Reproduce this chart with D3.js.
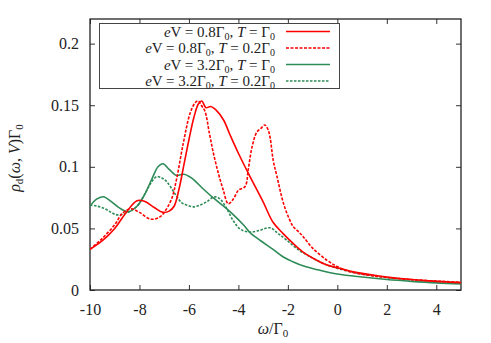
<!DOCTYPE html>
<html>
<head>
<meta charset="utf-8">
<script src="https://cdn.jsdelivr.net/npm/d3@7"></script>
<style>
  body { margin: 0; background: #fff; }
</style>
</head>
<body>
<div id="chart"></div>
<script>
var svgWidth = 491;
var svgHeight = 343;
var serif = "'Liberation Serif', 'Times New Roman', 'DejaVu Serif', serif";

var margin = { top: 19, right: 30, bottom: 53, left: 90 };
var width = svgWidth - margin.left - margin.right;
var height = svgHeight - margin.top - margin.bottom;

var xTicks = [-10, -8, -6, -4, -2, 0, 2, 4];
var yTicks = [0, 0.05, 0.1, 0.15, 0.2];
var yTickLabels = ["0", "0.05", "0.1", "0.15", "0.2"];

// eV = 0.8, T = 1
var redSolidX = [-10, -9.5, -9, -8.5, -8.1, -7.8, -7.4, -7.05, -6.8, -6.6, -6.4, -6.2, -6.0, -5.8, -5.62, -5.48, -5.31, -5.12, -4.9, -4.6, -4.34, -4.0, -3.53, -3.0, -2.6, -2.2, -1.8, -1.4, -1.0, -0.5, 0, 0.5, 1, 2, 3, 4, 5];
var redSolidY = [0.033, 0.040, 0.050, 0.064, 0.0725, 0.072, 0.067, 0.063, 0.064, 0.068, 0.082, 0.102, 0.122, 0.140, 0.151, 0.1534, 0.148, 0.149, 0.146, 0.138, 0.126, 0.111, 0.092, 0.0715, 0.055, 0.046, 0.038, 0.031, 0.026, 0.021, 0.018, 0.0155, 0.0135, 0.0105, 0.0085, 0.007, 0.006];

// eV = 0.8, T = 0.2
var redDashX = [-10, -9.5, -9.0, -8.7, -8.35, -8.0, -7.55, -7.2, -7.0, -6.7, -6.5, -6.23, -5.96, -5.75, -5.62, -5.5, -5.35, -5.18, -5.01, -4.8, -4.61, -4.41, -4.2, -4.0, -3.73, -3.6, -3.45, -3.26, -3.1, -2.93, -2.8, -2.72, -2.59, -2.45, -2.18, -1.95, -1.78, -1.55, -1.37, -1.0, -0.43, 0, 0.51, 1.0, 1.73, 2.5, 3.5, 5];
var redDashY = [0.033, 0.042, 0.053, 0.062, 0.066, 0.063, 0.0575, 0.059, 0.063, 0.074, 0.090, 0.119, 0.143, 0.152, 0.1535, 0.150, 0.145, 0.128, 0.111, 0.094, 0.081, 0.070, 0.074, 0.081, 0.084, 0.098, 0.116, 0.128, 0.131, 0.134, 0.130, 0.124, 0.105, 0.093, 0.0705, 0.058, 0.0513, 0.047, 0.043, 0.034, 0.0243, 0.019, 0.0148, 0.0128, 0.0108, 0.0092, 0.0078, 0.0062];

// eV = 3.2, T = 1
var greenSolidX = [-10, -9.75, -9.46, -9.15, -8.8, -8.45, -8.1, -7.84, -7.5, -7.25, -7.05, -6.8, -6.5, -6.2, -5.9, -5.42, -5.0, -4.6, -4.2, -3.8, -3.5, -3.1, -2.6, -2.2, -1.8, -1.3, -0.8, 0, 1, 2, 3, 4, 5];
var greenSolidY = [0.068, 0.0735, 0.0757, 0.072, 0.0665, 0.0635, 0.068, 0.0756, 0.090, 0.100, 0.1025, 0.098, 0.093, 0.094, 0.091, 0.082, 0.0745, 0.068, 0.061, 0.053, 0.046, 0.040, 0.033, 0.027, 0.023, 0.019, 0.0165, 0.013, 0.0105, 0.0085, 0.007, 0.0058, 0.005];

// eV = 3.2, T = 0.2
var greenDashX = [-10, -9.7, -9.4, -9.1, -8.9, -8.6, -8.3, -8.1, -7.9, -7.7, -7.5, -7.3, -7.1, -6.9, -6.56, -6.3, -6.09, -5.82, -5.55, -5.28, -5.05, -4.88, -4.7, -4.47, -4.2, -3.93, -3.53, -3.13, -2.72, -2.4, -2.05, -1.6, -1.1, -0.5, 0.24, 1, 2, 3, 4, 5];
var greenDashY = [0.069, 0.068, 0.066, 0.0625, 0.061, 0.062, 0.065, 0.068, 0.074, 0.081, 0.088, 0.092, 0.091, 0.088, 0.078, 0.071, 0.069, 0.0675, 0.069, 0.0716, 0.075, 0.0755, 0.073, 0.066, 0.056, 0.0495, 0.047, 0.0485, 0.0505, 0.046, 0.0405, 0.033, 0.027, 0.021, 0.0162, 0.013, 0.010, 0.0083, 0.007, 0.006];

var red = "#ff0000";
var green = "#2e8b57";

var series = [
  { label: ["0.8", "Γ", "0", "Γ", "0"], xs: redSolidX, ys: redSolidY, color: red, dash: null },
  { label: ["0.8", "Γ", "0", "0.2Γ", "0"], xs: redDashX, ys: redDashY, color: red, dash: "3,1.5" },
  { label: ["3.2", "Γ", "0", "Γ", "0"], xs: greenSolidX, ys: greenSolidY, color: green, dash: null },
  { label: ["3.2", "Γ", "0", "0.2Γ", "0"], xs: greenDashX, ys: greenDashY, color: green, dash: "2.5,1.5" }
];

var svg = d3.select("#chart")
  .append("svg")
  .attr("width", svgWidth)
  .attr("height", svgHeight)
  .style("font-family", serif);

var chartGroup = svg.append("g")
  .attr("transform", `translate(${margin.left}, ${margin.top})`);

var xScale = d3.scaleLinear().domain([-10, 5]).range([0, width]);
var yScale = d3.scaleLinear().domain([0, 0.22]).range([height, 0]);

// axes, ticks pointing inward like gnuplot
var bottomAxis = d3.axisBottom(xScale).tickValues(xTicks).tickSize(-5).tickPadding(14)
  .tickFormat(d => d);
var topAxis = d3.axisTop(xScale).tickValues(xTicks).tickSize(-5).tickFormat("");
var leftAxis = d3.axisLeft(yScale).tickValues(yTicks).tickSize(-5).tickPadding(11)
  .tickFormat((d, i) => yTickLabels[i]);
var rightAxis = d3.axisRight(yScale).tickValues(yTicks).tickSize(-5).tickFormat("");

function styleAxis(g) {
  g.attr("font-family", serif).attr("font-size", 16);
  g.select(".domain").remove();
  g.selectAll("line").attr("stroke", "#333").attr("stroke-width", 1);
  g.selectAll("text")
    .attr("font-family", serif)
    .style("font-family", serif)
    .style("font-size", "16px")
    .attr("fill", "#222");
}

chartGroup.append("g").attr("transform", `translate(0, ${height})`).call(bottomAxis).call(styleAxis);
chartGroup.append("g").call(topAxis).call(styleAxis);
chartGroup.append("g").call(leftAxis).call(styleAxis);
chartGroup.append("g").attr("transform", `translate(${width}, 0)`).call(rightAxis).call(styleAxis);

chartGroup.append("rect")
  .attr("width", width)
  .attr("height", height)
  .attr("fill", "none")
  .attr("stroke", "#222")
  .attr("stroke-width", 1.3);

// curves
chartGroup.append("clipPath").attr("id", "clip")
  .append("rect").attr("width", width).attr("height", height);

var line = d3.line()
  .x(d => xScale(d[0]))
  .y(d => yScale(d[1]))
  .curve(d3.curveCatmullRom.alpha(0.5));

var plotGroup = chartGroup.append("g").attr("clip-path", "url(#clip)");

// draw in reverse so red sits on top
series.slice().reverse().forEach(function(s) {
  var pts = s.xs.map((x, i) => [x, s.ys[i]]);
  plotGroup.append("path")
    .datum(pts)
    .attr("d", line)
    .attr("fill", "none")
    .attr("stroke", s.color)
    .attr("stroke-width", 1.6)
    .attr("stroke-dasharray", s.dash);
});

// legend
var legend = chartGroup.append("g");
legend.append("rect")
  .attr("x", 9.5).attr("y", 4.5)
  .attr("width", 240).attr("height", 65)
  .attr("fill", "#fff")
  .attr("stroke", "#444")
  .attr("stroke-width", 1);

series.forEach(function(s, i) {
  var cy = 12.5 + i * 16.5;
  var t = legend.append("text")
    .attr("x", 185)
    .attr("y", cy + 5)
    .attr("text-anchor", "end")
    .attr("fill", "#222")
    .style("font-family", serif)
    .style("font-size", "15px");
  t.append("tspan").style("font-style", "italic").text("e");
  t.append("tspan").text("V = " + s.label[0] + s.label[1]);
  t.append("tspan").attr("dy", 3).style("font-size", "10px").text(s.label[2]);
  t.append("tspan").attr("dy", -3).text(", ");
  t.append("tspan").style("font-style", "italic").text("T");
  t.append("tspan").text(" = " + s.label[3]);
  t.append("tspan").attr("dy", 3).style("font-size", "10px").text(s.label[4]);

  legend.append("line")
    .attr("x1", 196).attr("x2", 240)
    .attr("y1", cy).attr("y2", cy)
    .attr("stroke", s.color)
    .attr("stroke-width", 1.6)
    .attr("stroke-dasharray", s.dash);
});

// axis titles
var xTitle = svg.append("text")
  .attr("x", 273)
  .attr("y", 334)
  .attr("text-anchor", "middle")
  .attr("fill", "#222")
  .style("font-size", "16px");
xTitle.append("tspan").style("font-style", "italic").text("ω");
xTitle.append("tspan").text("/Γ");
xTitle.append("tspan").attr("dy", 3).style("font-size", "11px").text("0");

var yTitle = svg.append("text")
  .attr("transform", "translate(20, 158) rotate(-90)")
  .attr("text-anchor", "middle")
  .attr("fill", "#222")
  .style("font-size", "16px");
yTitle.append("tspan").style("font-style", "italic").text("ρ");
yTitle.append("tspan").attr("dy", 3).style("font-size", "11px").text("d");
yTitle.append("tspan").attr("dy", -3).text("(");
yTitle.append("tspan").style("font-style", "italic").text("ω");
yTitle.append("tspan").text(", ");
yTitle.append("tspan").style("font-style", "italic").text("V");
yTitle.append("tspan").text(")Γ");
yTitle.append("tspan").attr("dy", 3).style("font-size", "11px").text("0");
</script>
</body>
</html>
